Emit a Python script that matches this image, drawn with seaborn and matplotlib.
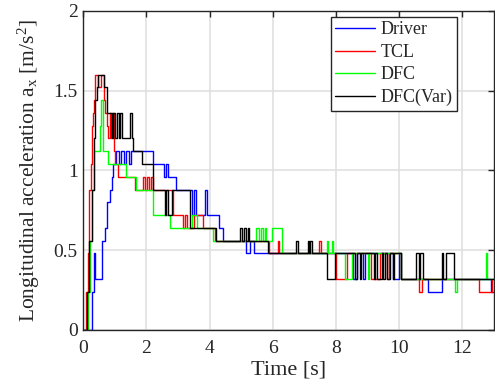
import numpy as np
import pandas as pd
import seaborn as sns
import matplotlib.pyplot as plt

# step signals: change times [s] and levels [m/s^2]
t_driver = [0, 0.27, 0.33, 0.37, 0.61, 0.69, 0.76, 0.84, 0.90, 0.95, 1.05, 1.12, 1.20, 1.28,
            1.36, 1.44, 1.52, 2.20, 2.55, 2.62, 2.68, 2.95, 3.45, 3.52, 3.58, 3.85, 3.91, 4.30,
            4.42, 5.15, 5.28, 5.42, 8.54, 8.68, 8.85, 8.92, 9.80, 9.98, 10.05, 10.92, 11.34,
            12.90, 13.0]
a_driver = [0, 0.24, 0.48, 0.32, 0.56, 0.64, 0.80, 0.88, 0.96, 1.04, 1.12, 1.04, 1.12, 1.04,
            1.12, 1.04, 1.12, 1.04, 0.96, 1.04, 0.96, 0.88, 0.72, 0.88, 0.72, 0.88, 0.72, 0.64,
            0.56, 0.48, 0.56, 0.48, 0.32, 0.48, 0.32, 0.48, 0.32, 0.48, 0.32, 0.24, 0.32,
            0.24, 0.24]

t_tcl = [0, 0.10, 0.15, 0.20, 0.24, 0.28, 0.31, 0.34, 0.37, 0.48, 0.58, 0.65, 0.70, 0.75,
         0.80, 0.84, 0.88, 0.92, 0.97, 1.02, 1.10, 1.65, 1.90, 1.96, 2.02, 2.08, 2.14, 2.20,
         2.85, 3.17, 3.22, 3.27, 3.50, 3.79, 4.17, 5.88, 6.15, 6.20, 7.45, 7.52, 7.99, 8.35,
         9.10, 9.40, 9.62, 9.68, 10.05, 10.64, 10.72, 12.53, 12.93, 13.0]
a_tcl = [0, 0.24, 0.48, 0.88, 1.04, 1.28, 1.36, 1.44, 1.60, 1.52, 1.60, 1.44, 1.36, 1.28,
         1.20, 1.36, 1.20, 1.36, 1.12, 1.04, 0.96, 0.88, 0.96, 0.88, 0.96, 0.88, 0.96, 0.88,
         0.72, 0.64, 0.72, 0.64, 0.72, 0.64, 0.56, 0.48, 0.56, 0.48, 0.56, 0.48, 0.32, 0.48,
         0.32, 0.48, 0.32, 0.48, 0.32, 0.24, 0.32, 0.24, 0.32, 0.32]

t_dfc = [0, 0.15, 0.22, 0.28, 0.33, 0.52, 0.55, 0.62, 0.78, 1.35, 1.66, 2.20, 2.76, 3.43,
         3.60, 4.10, 5.48, 5.56, 5.62, 5.68, 5.74, 5.80, 5.98, 6.30, 7.70, 7.75, 7.87, 7.92,
         8.30, 8.50, 9.00, 9.05, 10.05, 11.77, 11.82, 12.74, 12.78, 13.0]
a_dfc = [0, 0.24, 0.56, 0.88, 1.12, 1.28, 1.44, 1.12, 1.04, 0.96, 0.88, 0.72, 0.64, 0.72,
         0.64, 0.56, 0.64, 0.56, 0.64, 0.56, 0.64, 0.56, 0.64, 0.48, 0.56, 0.48, 0.56, 0.48,
         0.32, 0.48, 0.32, 0.48, 0.32, 0.24, 0.32, 0.48, 0.32, 0.32]

t_var = [0, 0.12, 0.20, 0.28, 0.33, 0.38, 0.45, 0.48, 0.66, 0.74, 0.90, 0.96, 1.02, 1.06,
         1.12, 1.16, 1.22, 1.27, 1.48, 1.53, 1.59, 1.64, 1.85, 2.22, 2.58, 2.63, 2.68, 2.80,
         3.38, 4.20, 4.97, 5.02, 5.10, 5.14, 5.20, 5.25, 5.85, 6.74, 6.81, 7.10, 7.14, 7.18,
         7.25, 7.73, 7.98, 8.60, 8.65, 8.75, 8.80, 9.20, 9.25, 9.30, 9.45, 9.50, 9.55, 9.62,
         9.70, 9.80, 9.85, 10.05, 10.53, 10.62, 10.66, 10.74, 11.36, 11.40, 11.48, 11.74, 13.0]
a_var = [0, 0.24, 0.56, 0.88, 1.20, 1.44, 1.52, 1.60, 1.52, 1.36, 1.20, 1.36, 1.20, 1.36,
         1.20, 1.36, 1.20, 1.20, 1.36, 1.20, 1.12, 1.12, 1.04, 0.88, 0.72, 0.88, 0.72, 0.88,
         0.64, 0.56, 0.64, 0.56, 0.64, 0.56, 0.64, 0.56, 0.48, 0.56, 0.48, 0.56, 0.48, 0.56,
         0.48, 0.32, 0.48, 0.32, 0.48, 0.32, 0.48, 0.32, 0.48, 0.32, 0.48, 0.32, 0.48, 0.32,
         0.48, 0.32, 0.48, 0.32, 0.48, 0.32, 0.48, 0.32, 0.48, 0.32, 0.48, 0.32, 0.32]

names = ["Driver", "TCL", "DFC", "DFC(Var)"]
colors = ["#0000ff", "#ff0000", "#00ff00", "#000000"]

frames = []
for name, t, a in zip(names, [t_driver, t_tcl, t_dfc, t_var], [a_driver, a_tcl, a_dfc, a_var]):
    frames.append(pd.DataFrame({"t": t, "a": a, "ctrl": name}))
df = pd.concat(frames, ignore_index=True)

sns.set_style("white")
plt.rcParams["font.family"] = ["Liberation Serif", "DejaVu Serif"]
plt.rcParams["mathtext.fontset"] = "custom"
plt.rcParams["mathtext.rm"] = "Liberation Serif"
plt.rcParams["mathtext.it"] = "Liberation Serif:italic"

fig = plt.figure(figsize=(4.95, 3.89), dpi=100)
ax = fig.add_axes([0.168, 0.152, 0.830, 0.820])

sns.lineplot(data=df, x="t", y="a", hue="ctrl", hue_order=names, palette=colors,
             drawstyle="steps-post", linewidth=1.0, errorbar=None, estimator=None,
             sort=False, legend=False, ax=ax)

ax.set_xlim(0, 13)
ax.set_ylim(0, 2)
ax.set_xticks(np.arange(0, 13, 2))
ax.set_yticks([0, 0.5, 1, 1.5, 2])
ax.set_yticklabels(["0", "0.5", "1", "1.5", "2"])
ax.grid(True, color="#e0e0e0", linewidth=1.2)
ax.set_axisbelow(True)
for s in ax.spines.values():
    s.set_color("#262626")
    s.set_linewidth(1.0)
ax.tick_params(direction="in", length=4, width=1.0, color="#262626", top=True, right=True,
               labelsize=14, labelcolor="#262626")
ax.tick_params(axis="x", pad=7)
ax.tick_params(axis="y", pad=4)
ax.set_xlabel("Time [s]", fontsize=16, color="#262626", labelpad=3)
ax.set_ylabel(r"Longitudinal acceleration a$_\mathrm{x}$ [m/s$^\mathrm{2}$]", fontsize=15.5,
              color="#262626", labelpad=8)

leg = ax.legend(ax.lines[:4], names, loc="upper right", bbox_to_anchor=(0.91, 0.981),
                fontsize=13, frameon=True, fancybox=False, framealpha=1, edgecolor="#262626",
                handlelength=2.2, handletextpad=0.3, labelspacing=0.3, borderpad=0.25,
                borderaxespad=0)
leg.get_frame().set_linewidth(1.0)

fig.savefig("out.png", dpi=100)
